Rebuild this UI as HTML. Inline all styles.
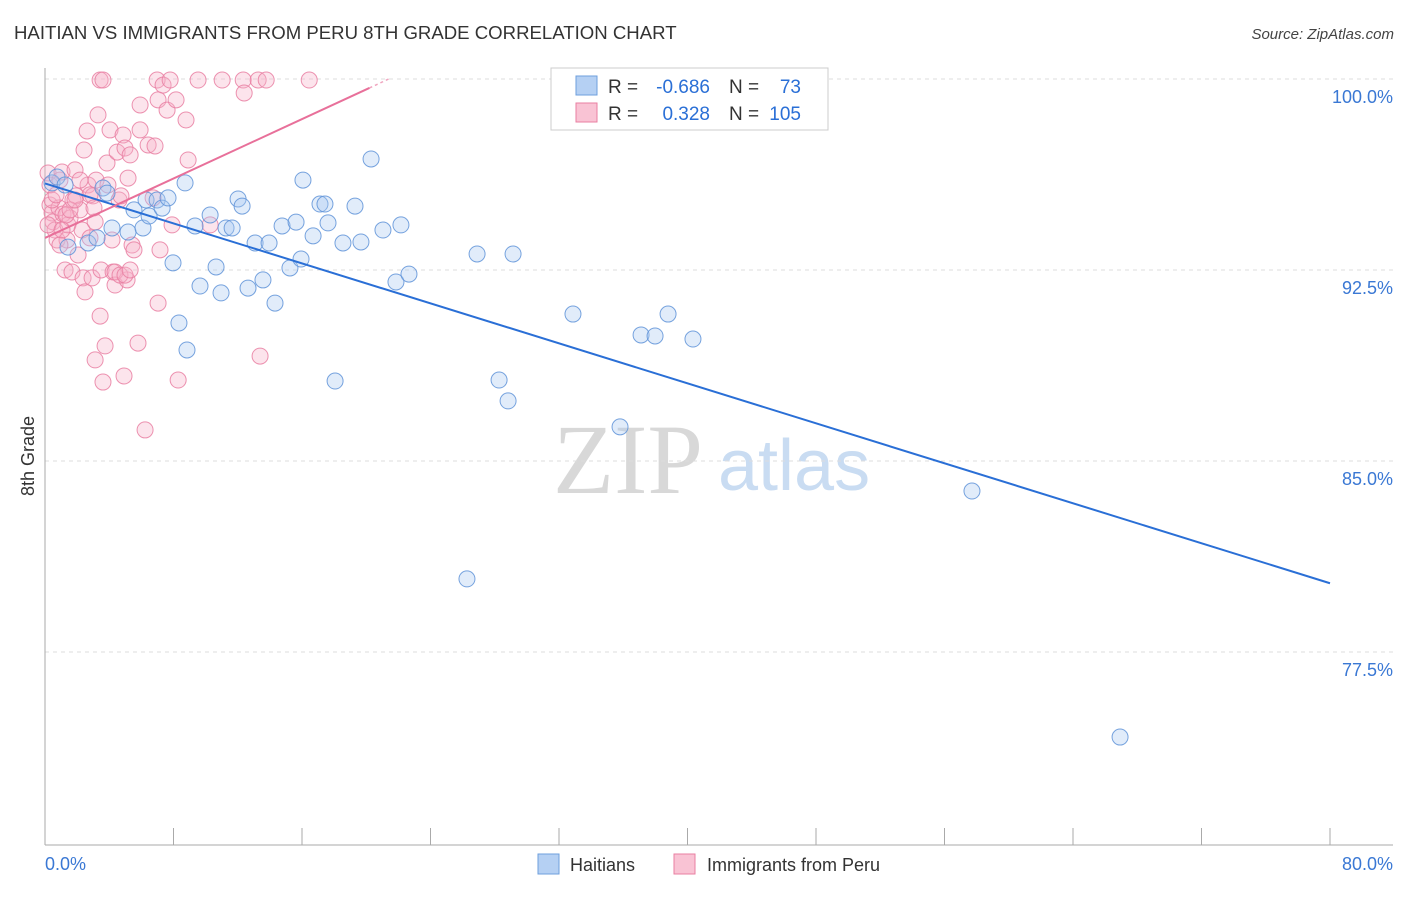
<!DOCTYPE html>
<html><head><meta charset="utf-8"><style>
body{margin:0;background:#fff;}
svg text{font-family:"Liberation Sans",sans-serif;}
</style></head><body>
<svg id="chart" width="1406" height="892" xmlns="http://www.w3.org/2000/svg">
<text x="14" y="39" font-size="18.6" fill="#333">HAITIAN VS IMMIGRANTS FROM PERU 8TH GRADE CORRELATION CHART</text>
<text x="1394" y="39" font-size="15" fill="#444" font-style="italic" text-anchor="end">Source: ZipAtlas.com</text>
<g>
<text x="553" y="493" font-size="100" fill="#d8d8d8" style="font-family:'Liberation Serif',serif">ZIP</text>
<text x="718" y="490" font-size="72" fill="#c9dcf2">atlas</text>
</g>
<g id="grid"></g>
<g id="axes"></g>
<g id="marks"></g>
<text transform="translate(34,456) rotate(-90)" font-size="18" fill="#333" text-anchor="middle">8th Grade</text>
<g>
<rect x="551" y="68" width="277" height="62" fill="#fff" stroke="#ccc"/>
<rect x="576" y="76" width="21" height="19" fill="#b5d0f3" stroke="#6e9fdc"/>
<rect x="576" y="103" width="21" height="19" fill="#f9c3d4" stroke="#e97fa2"/>
<text x="608" y="93" font-size="19" fill="#333">R =</text>
<text x="710" y="93" font-size="19" fill="#2a6fd6" text-anchor="end">-0.686</text>
<text x="729" y="93" font-size="19" fill="#333">N =</text>
<text x="801" y="93" font-size="19" fill="#2a6fd6" text-anchor="end">73</text>
<text x="608" y="120" font-size="19" fill="#333">R =</text>
<text x="710" y="120" font-size="19" fill="#2a6fd6" text-anchor="end">0.328</text>
<text x="729" y="120" font-size="19" fill="#333">N =</text>
<text x="801" y="120" font-size="19" fill="#2a6fd6" text-anchor="end">105</text>
</g>
<g>
<rect x="538" y="854" width="21" height="20" fill="#b5d0f3" stroke="#6e9fdc"/>
<text x="570" y="871" font-size="18" fill="#333">Haitians</text>
<rect x="674" y="854" width="21" height="20" fill="#f9c3d4" stroke="#e97fa2"/>
<text x="707" y="871" font-size="18" fill="#333">Immigrants from Peru</text>
</g>
</svg>
<script>
const blueX=[.44,.75,1.25,1.43,2.68,3.24,3.61,3.86,4.17,5.17,5.54,6.10,6.48,6.29,6.98,7.29,7.66,7.97,8.34,8.72,8.84,9.34,9.65,10.28,10.65,10.96,11.27,11.65,12.02,12.27,12.64,13.08,13.57,13.95,14.32,14.76,15.25,15.63,15.94,16.06,16.69,17.12,17.43,17.62,18.06,18.55,19.30,19.67,20.30,21.04,21.85,22.16,22.66,26.27,26.90,28.27,28.83,29.14,32.87,35.80,37.11,37.98,38.79,40.34,57.71,66.93,32.44];
const blueY=[95.92,96.15,95.84,93.40,93.56,93.76,95.72,95.52,94.15,93.99,94.86,94.15,94.62,95.25,95.25,94.93,95.33,92.78,90.42,95.92,89.36,94.23,91.87,94.66,92.62,91.60,94.15,94.15,95.29,95.01,91.79,93.56,92.11,93.56,91.20,94.23,92.58,94.38,92.93,96.03,93.84,95.09,95.09,94.35,88.14,93.56,95.01,93.60,96.86,94.07,92.03,94.27,92.34,80.37,93.13,88.18,87.36,93.13,90.77,86.34,89.95,89.91,90.77,89.79,83.82,74.16,100];
const pinkX=[.19,.31,.31,.44,.50,.62,.75,.87,.93,1.06,1.12,1.25,1.37,1.43,1.56,1.68,1.74,1.87,1.93,2.06,2.18,2.31,2.37,2.43,2.49,2.62,2.68,2.80,2.93,2.99,3.12,3.18,3.30,3.43,3.49,3.61,3.74,3.86,3.92,4.05,4.24,4.36,4.49,4.61,4.73,4.86,4.92,4.98,5.11,5.17,5.30,5.42,5.54,5.79,5.92,5.92,6.23,6.42,6.73,6.85,6.98,7.04,7.04,7.16,7.35,7.60,7.79,7.91,8.16,8.29,8.78,8.91,9.53,10.28,11.03,12.34,12.40,13.27,13.39,13.77,16.45,3.43,3.61,.19,.44,.69,1.31,1.56,1.87,.93,1.06,2.18,2.80,3.05,4.36,4.67,4.98,5.30,4.17,3.12];
const pinkY=[96.31,95.84,95.05,94.74,94.39,94.07,93.68,94.94,96.03,96.35,94.70,92.50,93.68,94.27,94.54,92.42,95.25,96.43,95.41,93.09,94.86,94.07,92.19,97.21,91.64,97.96,95.84,93.76,92.19,95.41,94.39,96.03,98.59,90.69,92.50,88.10,89.52,96.70,95.84,98.00,92.42,91.91,97.13,95.25,95.41,97.80,88.34,97.29,92.11,96.11,97.02,93.48,93.29,89.63,98.98,98.00,86.22,97.41,95.33,97.37,99.96,99.18,91.20,93.29,99.76,98.78,99.96,94.27,99.18,88.18,98.39,96.82,99.96,94.27,99.96,99.96,99.45,99.96,89.12,99.96,99.96,99.96,99.96,94.27,95.25,95.45,94.66,94.86,95.25,93.48,94.07,96.03,95.45,94.94,92.42,92.30,92.30,92.50,93.68,88.97];
const blueTrend=[[0,95.9],[80,80.2]];
const pinkTrend=[[0,93.76],[20.2,99.65]];
const yTicks=[100,92.5,85,77.5];
const yTickLabels=["100.0%","92.5%","85.0%","77.5%"];
const xTicks=[8,16,24,32,40,48,56,64,72,80];

const NS="http://www.w3.org/2000/svg";
const X0=45,X1=1330,Y0=79,PXPER=191/7.5;
function sx(v){return X0+(v/80)*(X1-X0);}
function sy(v){return Y0+(100-v)*PXPER;}
function mk(tag,attrs,parent){const e=document.createElementNS(NS,tag);for(const k in attrs)e.setAttribute(k,attrs[k]);parent.appendChild(e);return e;}
const grid=document.getElementById('grid'),axes=document.getElementById('axes'),marks=document.getElementById('marks');
yTicks.forEach((t,i)=>{
 const l=mk('line',{x1:X0,x2:1393,y1:sy(t),y2:sy(t),stroke:'#ddd','stroke-dasharray':'4,4'},grid);
 
 
 const tx=mk('text',{x:1393,y:sy(t)+24,'font-size':18,fill:'#3a78d4','text-anchor':'end'},axes);
 tx.textContent=yTickLabels[i];
 
 
});
const ax=mk('line',{x1:X0,x2:1393,y1:845,y2:845,stroke:'#aaa'},axes);


const ay=mk('line',{x1:X0,x2:X0,y1:68,y2:845,stroke:'#aaa'},axes);


xTicks.forEach(t=>{
 const l=mk('line',{x1:sx(t),x2:sx(t),y1:828,y2:845,stroke:'#aaa'},axes);
 
 
});
const xl=mk('text',{x:45,y:870,'font-size':18,fill:'#3a78d4'},axes);xl.textContent='0.0%';


const xr=mk('text',{x:1393,y:870,'font-size':18,fill:'#3a78d4','text-anchor':'end'},axes);xr.textContent='80.0%';


function pts(xs,ys,fill,stroke,name){xs.forEach((x,i)=>{
 const c=mk('circle',{cx:sx(x),cy:sy(ys[i]),r:8,fill:fill,'fill-opacity':0.35,stroke:stroke,'stroke-opacity':0.85,'stroke-width':1},marks);
 
 
});}
pts(pinkX,pinkY,'#f7b3c8','#e97fa2','peru-point');
pts(blueX,blueY,'#a9c8f0','#5f93d8','haitian-point');
const bl=mk('line',{x1:sx(blueTrend[0][0]),y1:sy(blueTrend[0][1]),x2:sx(blueTrend[1][0]),y2:sy(blueTrend[1][1]),stroke:'#2a6fd6','stroke-width':2},marks);


const pl=mk('line',{x1:sx(pinkTrend[0][0]),y1:sy(pinkTrend[0][1]),x2:sx(pinkTrend[1][0]),y2:sy(pinkTrend[1][1]),stroke:'#e8709a','stroke-width':2},marks);


const slope=(pinkTrend[1][1]-pinkTrend[0][1])/(pinkTrend[1][0]-pinkTrend[0][0]);
const xe=pinkTrend[1][0]+(100-pinkTrend[1][1])/slope;
const pd=mk('line',{x1:sx(pinkTrend[1][0]),y1:sy(pinkTrend[1][1]),x2:sx(xe),y2:sy(100),stroke:'#f0a5bf','stroke-width':1.5,'stroke-dasharray':'3,3'},marks);


</script>
</body></html>
